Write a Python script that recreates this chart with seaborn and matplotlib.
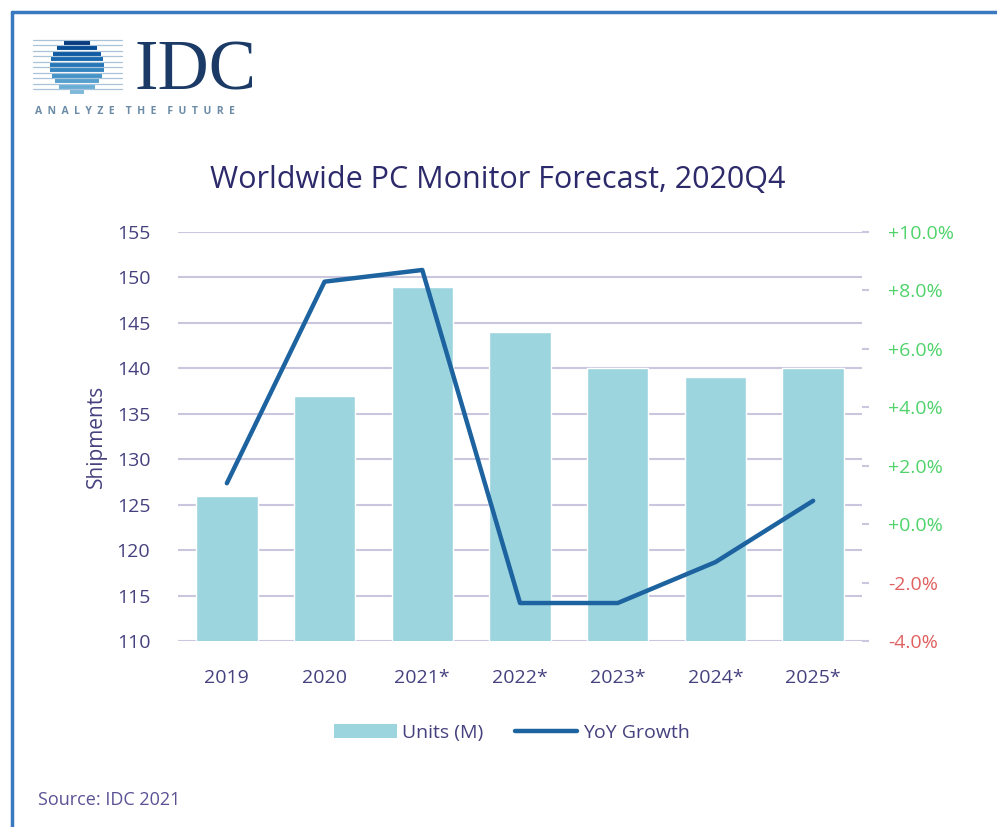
import numpy as np
import pandas as pd
import seaborn as sns
import matplotlib.pyplot as plt
from matplotlib.lines import Line2D
from matplotlib.patches import Patch

# 数据
years = ['2019', '2020', '2021*', '2022*', '2023*', '2024*', '2025*']
units = [126, 137, 149, 144, 140, 139, 140]
growth = [1.4, 8.3, 8.7, -2.7, -2.7, -1.3, 0.8]
left_ticks = [110, 115, 120, 125, 130, 135, 140, 145, 150, 155]
right_ticks = [-4, -2, 0, 2, 4, 6, 8, 10]

df = pd.DataFrame({'year': years, 'units': units, 'growth': growth})

bar_color = '#9dd5df'
line_color = '#1d63a0'
navy = '#2d2a6b'
label_color = '#45417e'
grid_color = '#c9c6de'

sns.set_style('white')
plt.rcParams['font.family'] = ['Open Sans', 'DejaVu Sans']

fig = plt.figure(figsize=(9.97, 8.27), dpi=100)
ax = fig.add_axes([178 / 997, 1 - 641 / 827, (862 - 178) / 997, (641 - 232) / 827])

# 柱状图
sns.barplot(data=df, x='year', y='units', color=bar_color, width=0.63,
            saturation=1, ax=ax, zorder=2)
ax.set_ylim(110, 155)
ax.set_xlim(-0.5, 6.5)
ax.set_yticks(left_ticks)
ax.yaxis.grid(True, color=grid_color, lw=1.5, zorder=0)
ax.set_axisbelow(True)
for s in ax.spines.values():
    s.set_visible(False)
ax.tick_params(axis='y', length=0, labelsize=14, labelcolor=label_color, pad=20)
ax.tick_params(axis='x', length=0, labelsize=14, labelcolor=label_color, pad=20)
ax.set_xlabel('')
ax.set_ylabel('Shipments', fontsize=15, color=label_color, labelpad=7)

# 增长率折线
ax2 = ax.twinx()
sns.lineplot(data=df, x='year', y='growth', color=line_color, lw=3.2, ax=ax2,
             zorder=3)
ax2.set_ylim(-4, 10)
ax2.set_yticks(right_ticks)
ax2.set_yticklabels(['{:+.1f}%'.format(v) if v >= 0 else '{:.1f}%'.format(v)
                     for v in right_ticks])
for lbl, v in zip(ax2.get_yticklabels(), right_ticks):
    lbl.set_color('#4fd36a' if v >= 0 else '#e06060')
ax2.tick_params(axis='y', length=5, color=grid_color, width=1.5, labelsize=14, pad=14)
ax2.set_ylabel('')
for s in ax2.spines.values():
    s.set_visible(False)

# 标题
fig.text(498 / 997, 1 - 180 / 827, 'Worldwide PC Monitor Forecast, 2020Q4',
         ha='center', va='center', fontsize=22, color=navy)

# 图例
handles = [Patch(facecolor=bar_color, edgecolor='none'),
           Line2D([0], [0], color=line_color, lw=3.2)]
fig.legend(handles, ['Units (M)', 'YoY Growth'], loc='center',
           bbox_to_anchor=(512 / 997, 1 - 733 / 827), ncol=2, frameon=False,
           fontsize=14, labelcolor=label_color, handlelength=3.2,
           handletextpad=0.3, columnspacing=1.6)

# 来源
fig.text(38 / 997, 1 - 800 / 827, 'Source: IDC 2021', ha='left', va='center',
         fontsize=13, color='#5a5294')

# IDC 标志
fig.text(134 / 997, 1 - 104 / 827, 'IDC', ha='left', va='bottom', fontsize=51,
         family='Liberation Serif', color='#1b3a66')
fig.text(35 / 997, 1 - 111 / 827, 'A  N  A  L  Y  Z  E    T  H  E    F  U  T  U  R  E',
         ha='left', va='center', fontsize=7.5, color='#6a8aa5', fontweight='bold')
lax = fig.add_axes([30 / 997, 1 - 95 / 827, 95 / 997, 58 / 827])
lax.set_xlim(0, 95)
lax.set_ylim(0, 58)
lax.axis('off')
stripe_rows = np.arange(3, 56, 5.5)
cx, cy, r = 47, 29, 27
for yy in stripe_rows:
    dy = yy - cy
    half = np.sqrt(max(r ** 2 - dy ** 2, 0))
    t = (yy - stripe_rows.min()) / (stripe_rows.max() - stripe_rows.min())
    c = plt.cm.Blues(0.45 + 0.5 * t)
    lax.plot([cx - half, cx + half], [yy, yy], color=c, lw=2.8,
             solid_capstyle='butt')
    lax.plot([3, 92], [yy + 2.75, yy + 2.75], color='#a9c3da', lw=0.9, zorder=0)

# 边框
fig.add_artist(Line2D([12 / 997, 12 / 997], [0, 1 - 12 / 827], color='#3a78c0',
                      lw=2.5, transform=fig.transFigure))
fig.add_artist(Line2D([12 / 997, 1], [1 - 12 / 827, 1 - 12 / 827], color='#3a78c0',
                      lw=2.5, transform=fig.transFigure))

fig.savefig('out.png', dpi=100)
